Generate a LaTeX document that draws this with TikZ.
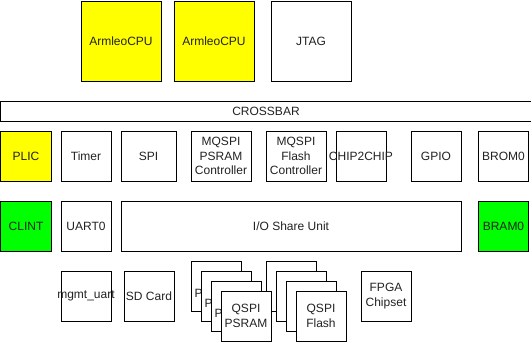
\documentclass[tikz,border=0pt]{standalone}
\usepackage{fontspec}
\setmainfont{Liberation Sans}
\definecolor{cpuyellow}{HTML}{FFFF00}
\definecolor{clintgreen}{HTML}{00FF00}
\definecolor{txtgray}{HTML}{222222}
\tikzset{
    blk/.style={draw, line width=1pt, fill=white, anchor=north west, inner sep=0pt,
        minimum width=50pt, minimum height=50pt, align=center, text=txtgray,
        font=\fontsize{12}{14.5}\selectfont},
    lbl/.style={inner sep=0pt, text=txtgray, align=center, font=\fontsize{12}{14.5}\selectfont}
}
\begin{document}
\begin{tikzpicture}[x=1pt,y=-1pt]
        \useasboundingbox (-0.5,-0.5) rectangle (530.5,340.5);

        %%%%%%%% Masters %%%%%%%%%
        \node[blk,fill=cpuyellow,minimum width=80pt,minimum height=80pt] (cpua) at (80,0) {ArmleoCPU};
        \node[blk,fill=cpuyellow,minimum width=80pt,minimum height=80pt] (cpub) at (173,0) {ArmleoCPU};
        \node[blk,minimum width=80pt,minimum height=80pt] (jtag) at (270,0) {JTAG};

        %%%%%%%% Crossbar %%%%%%%%
        \node[blk,minimum width=530pt,minimum height=20pt] (xbar) at (0,100) {CROSSBAR};

        %%%%%%%% Slaves 1 %%%%%%%%%
        \node[blk,fill=cpuyellow] (plic) at (0,130) {PLIC};
        \node[blk] (timer) at (60,130) {Timer};
        \node[blk,minimum width=55pt] (spi) at (120,130) {SPI};
        \node[blk,minimum width=60pt] (psramctl) at (190,130) {MQSPI\\PSRAM\\Controller};
        \node[blk,minimum width=60pt] (flashctl) at (265,130) {MQSPI\\Flash\\Controller};
        \node[blk] (c2c) at (335,130) {};
        \node[lbl] (c2ctxt) at (c2c.center) {CHIP2CHIP};
        \node[blk] (gpio) at (410,130) {GPIO};
        \node[blk] (brom) at (477.5,130) {BROM0};

        %%%%%%%% Slaves 2 %%%%%%%%%
        \node[blk,fill=clintgreen] (clint) at (0,200) {CLINT};
        \node[blk] (uart) at (60,200) {UART0};
        \node[blk,minimum width=340pt] (ioshare) at (120,200) {I/O Share Unit};
        \node[blk,fill=clintgreen] (bram) at (477.5,200) {BRAM0};

        %%%%%%%% Off chip %%%%%%%%
        \node[blk] (mgmt) at (60,270) {};
        \node[lbl] (mgmttxt) at (mgmt.center) {mgmt\_uart};
        \node[blk] (sdcard) at (123,270) {SD Card};
        \foreach \i in {0,1,2,3} {
            \node[blk] (psram\i) at (190+10*\i,260+10*\i) {QSPI\\PSRAM};
            \node[blk] (flash\i) at (265+10*\i,260+10*\i) {QSPI\\Flash};
        }
        \node[blk] (fpga) at (360,270) {FPGA\\Chipset};
    \end{tikzpicture}
\end{document}
